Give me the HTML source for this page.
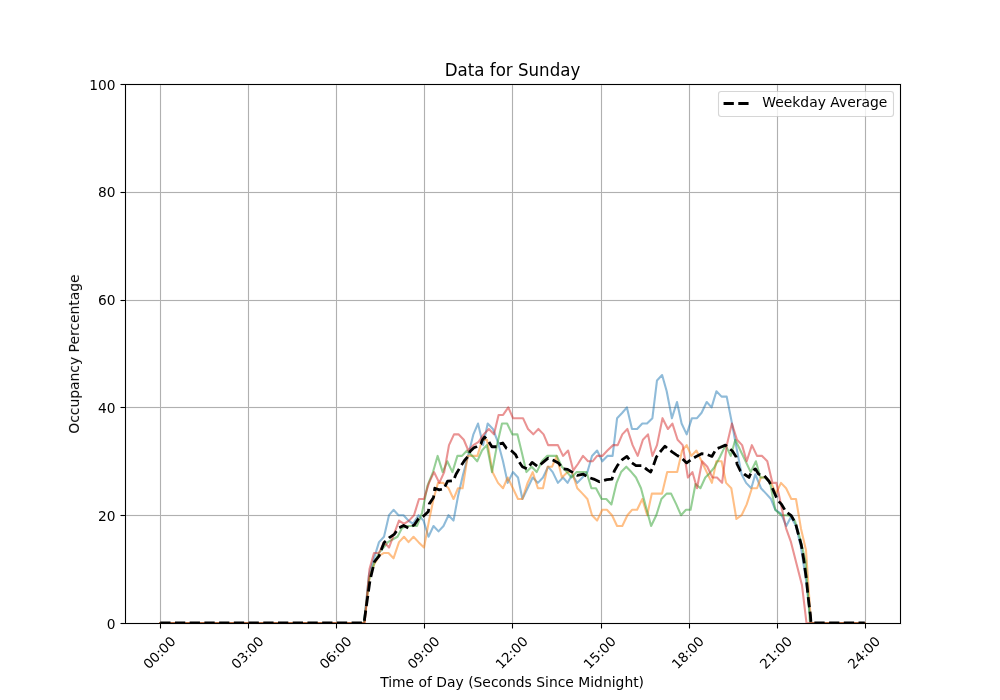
<!DOCTYPE html>
<html><head><meta charset="utf-8"><title>Data for Sunday</title>
<style>html,body{margin:0;padding:0;background:#fff;width:1000px;height:700px;overflow:hidden}svg{display:block}</style>
</head><body>
<svg width="1000" height="700" viewBox="0 0 1000 700" version="1.1">
<defs><clipPath id="ax"><rect x="125" y="84" width="775" height="539"/></clipPath></defs>
<rect x="0" y="0" width="1000" height="700" fill="#ffffff"/>
<g fill="#fafafa" shape-rendering="crispEdges"><rect x="159" y="85" width="1" height="538"/><rect x="161" y="85" width="1" height="538"/><rect x="247" y="85" width="1" height="538"/><rect x="249" y="85" width="1" height="538"/><rect x="335" y="85" width="1" height="538"/><rect x="337" y="85" width="1" height="538"/><rect x="423" y="85" width="1" height="538"/><rect x="425" y="85" width="1" height="538"/><rect x="511" y="85" width="1" height="538"/><rect x="513" y="85" width="1" height="538"/><rect x="600" y="85" width="1" height="538"/><rect x="602" y="85" width="1" height="538"/><rect x="688" y="85" width="1" height="538"/><rect x="690" y="85" width="1" height="538"/><rect x="776" y="85" width="1" height="538"/><rect x="778" y="85" width="1" height="538"/><rect x="864" y="85" width="1" height="538"/><rect x="866" y="85" width="1" height="538"/><rect x="126" y="191" width="774" height="1"/><rect x="126" y="193" width="774" height="1"/><rect x="126" y="299" width="774" height="1"/><rect x="126" y="301" width="774" height="1"/><rect x="126" y="406" width="774" height="1"/><rect x="126" y="408" width="774" height="1"/><rect x="126" y="514" width="774" height="1"/><rect x="126" y="516" width="774" height="1"/></g>
<g fill="#f1f1f1" shape-rendering="crispEdges"><rect x="126" y="85" width="774" height="1"/><rect x="126" y="622" width="774" height="1"/><rect x="126" y="85" width="1" height="537"/><rect x="899" y="85" width="1" height="537"/></g>
<g fill="#b0b0b0" shape-rendering="crispEdges"><rect x="160" y="84" width="1" height="539"/><rect x="248" y="84" width="1" height="539"/><rect x="336" y="84" width="1" height="539"/><rect x="424" y="84" width="1" height="539"/><rect x="512" y="84" width="1" height="539"/><rect x="601" y="84" width="1" height="539"/><rect x="689" y="84" width="1" height="539"/><rect x="777" y="84" width="1" height="539"/><rect x="865" y="84" width="1" height="539"/><rect x="125" y="192" width="775" height="1"/><rect x="125" y="300" width="775" height="1"/><rect x="125" y="407" width="775" height="1"/><rect x="125" y="515" width="775" height="1"/></g>
<g clip-path="url(#ax)" fill="none" stroke-linejoin="round" stroke-linecap="square">
<path d="M160.23 623.00 L165.12 623.00 L170.01 623.00 L174.91 623.00 L179.80 623.00 L184.69 623.00 L189.58 623.00 L194.48 623.00 L199.37 623.00 L204.26 623.00 L209.15 623.00 L214.05 623.00 L218.94 623.00 L223.83 623.00 L228.72 623.00 L233.62 623.00 L238.51 623.00 L243.40 623.00 L248.30 623.00 L253.19 623.00 L258.08 623.00 L262.97 623.00 L267.87 623.00 L272.76 623.00 L277.65 623.00 L282.54 623.00 L287.44 623.00 L292.33 623.00 L297.22 623.00 L302.11 623.00 L307.01 623.00 L311.90 623.00 L316.79 623.00 L321.69 623.00 L326.58 623.00 L331.47 623.00 L336.36 623.00 L341.26 623.00 L346.15 623.00 L351.04 623.00 L355.93 623.00 L360.83 623.00 L364.00 623.00 L369.00 574.49 L374.00 558.32 L379.00 542.15 L384.00 536.76 L389.00 515.20 L393.50 509.81 L398.50 515.20 L403.50 515.20 L408.50 520.59 L413.00 523.82 L418.50 515.20 L423.50 520.59 L428.50 536.76 L433.50 525.98 L438.50 531.37 L443.50 525.98 L448.50 515.20 L453.50 520.59 L458.00 496.34 L463.00 474.77 L468.00 455.91 L473.40 434.35 L478.00 423.57 L483.10 445.13 L487.70 423.57 L492.90 428.96 L498.00 442.44 L503.00 461.30 L507.70 482.86 L512.90 472.08 L518.00 477.47 L522.40 499.03 L527.60 488.25 L532.70 477.47 L537.90 482.86 L543.00 477.47 L548.10 466.69 L552.70 472.08 L557.90 482.86 L563.00 477.47 L567.60 482.86 L572.10 474.77 L577.30 482.86 L582.40 477.47 L587.40 472.08 L592.00 455.91 L597.10 450.52 L602.30 461.30 L607.40 455.91 L612.60 455.91 L617.10 418.18 L622.30 412.79 L626.90 407.40 L632.00 428.96 L637.10 428.96 L642.30 423.57 L647.00 423.57 L652.40 418.18 L657.00 380.45 L662.10 375.06 L666.70 391.23 L671.90 418.18 L677.00 402.01 L681.60 423.57 L686.70 434.35 L691.90 418.18 L697.00 418.18 L701.60 412.79 L706.70 402.01 L711.60 407.40 L716.40 391.23 L721.60 396.62 L726.70 396.62 L731.50 420.88 L736.50 447.83 L741.60 474.24 L746.10 482.86 L751.30 488.25 L755.30 474.24 L761.00 488.25 L766.10 493.64 L771.00 499.03 L775.30 509.81 L781.00 513.58 L786.30 525.98 L791.00 516.82 L796.00 525.98 L801.00 547.54 L806.00 579.88 L811.00 623.00 L815.85 623.00 L820.74 623.00 L825.63 623.00 L830.52 623.00 L835.42 623.00 L840.31 623.00 L845.20 623.00 L850.09 623.00 L854.99 623.00 L859.88 623.00 L864.77 623.00" stroke="#1f77b4" stroke-opacity="0.5" stroke-width="2.0833"/>
<path d="M160.23 623.00 L165.12 623.00 L170.01 623.00 L174.91 623.00 L179.80 623.00 L184.69 623.00 L189.58 623.00 L194.48 623.00 L199.37 623.00 L204.26 623.00 L209.15 623.00 L214.05 623.00 L218.94 623.00 L223.83 623.00 L228.72 623.00 L233.62 623.00 L238.51 623.00 L243.40 623.00 L248.30 623.00 L253.19 623.00 L258.08 623.00 L262.97 623.00 L267.87 623.00 L272.76 623.00 L277.65 623.00 L282.54 623.00 L287.44 623.00 L292.33 623.00 L297.22 623.00 L302.11 623.00 L307.01 623.00 L311.90 623.00 L316.79 623.00 L321.69 623.00 L326.58 623.00 L331.47 623.00 L336.36 623.00 L341.26 623.00 L346.15 623.00 L351.04 623.00 L355.93 623.00 L360.83 623.00 L364.50 623.00 L369.50 577.18 L374.50 563.71 L379.50 555.62 L384.00 552.93 L388.50 552.93 L393.50 558.32 L399.00 542.15 L404.00 536.76 L408.50 542.15 L413.50 536.76 L418.50 542.15 L424.00 547.54 L429.00 520.59 L433.50 499.03 L438.00 482.86 L443.00 482.86 L448.50 488.25 L453.50 499.03 L458.00 488.25 L462.60 488.25 L467.70 455.91 L472.30 455.91 L477.40 455.91 L482.30 439.74 L487.00 439.74 L492.50 472.08 L498.00 482.86 L503.00 488.25 L507.70 477.47 L512.90 488.25 L518.00 499.03 L522.40 499.03 L527.60 482.86 L532.70 472.08 L537.90 488.25 L543.00 488.25 L547.60 466.69 L552.10 466.69 L556.70 455.91 L561.90 477.47 L567.60 472.08 L572.10 472.08 L577.30 488.25 L582.50 493.64 L587.40 499.03 L592.00 515.20 L597.10 520.59 L602.30 509.81 L606.90 509.81 L612.00 515.20 L617.10 525.98 L622.30 525.98 L627.40 515.20 L632.00 509.81 L637.10 509.81 L642.30 499.03 L647.20 515.20 L651.80 493.64 L657.00 493.64 L662.00 493.64 L667.20 472.08 L672.20 472.08 L677.20 472.08 L682.10 450.52 L686.70 445.13 L691.30 455.91 L696.40 450.52 L701.60 461.30 L706.70 472.08 L711.90 482.86 L716.40 461.30 L721.60 461.30 L726.10 482.86 L731.30 488.25 L736.40 518.97 L741.60 515.20 L746.70 504.42 L751.90 488.25 L757.00 488.25 L761.00 477.47 L766.10 477.47 L771.30 482.86 L775.90 493.64 L781.00 482.86 L786.10 488.25 L791.30 499.03 L796.00 499.03 L801.00 528.67 L806.00 550.24 L811.00 623.00 L815.85 623.00 L820.74 623.00 L825.63 623.00 L830.52 623.00 L835.42 623.00 L840.31 623.00 L845.20 623.00 L850.09 623.00 L854.99 623.00 L859.88 623.00 L864.77 623.00" stroke="#ff7f0e" stroke-opacity="0.5" stroke-width="2.0833"/>
<path d="M160.23 623.00 L165.12 623.00 L170.01 623.00 L174.91 623.00 L179.80 623.00 L184.69 623.00 L189.58 623.00 L194.48 623.00 L199.37 623.00 L204.26 623.00 L209.15 623.00 L214.05 623.00 L218.94 623.00 L223.83 623.00 L228.72 623.00 L233.62 623.00 L238.51 623.00 L243.40 623.00 L248.30 623.00 L253.19 623.00 L258.08 623.00 L262.97 623.00 L267.87 623.00 L272.76 623.00 L277.65 623.00 L282.54 623.00 L287.44 623.00 L292.33 623.00 L297.22 623.00 L302.11 623.00 L307.01 623.00 L311.90 623.00 L316.79 623.00 L321.69 623.00 L326.58 623.00 L331.47 623.00 L336.36 623.00 L341.26 623.00 L346.15 623.00 L351.04 623.00 L355.93 623.00 L360.83 623.00 L364.00 623.00 L369.00 579.88 L374.00 563.71 L379.00 552.93 L383.50 547.54 L388.00 542.15 L392.50 539.46 L397.50 536.76 L402.00 528.14 L407.00 525.98 L412.00 525.98 L417.00 525.98 L422.00 513.04 L427.50 485.56 L433.00 472.08 L437.60 455.91 L442.70 472.08 L447.30 461.30 L452.40 472.08 L457.40 455.91 L462.00 455.91 L467.00 450.52 L472.30 455.91 L477.20 461.30 L482.00 450.52 L486.80 445.13 L492.00 472.08 L497.00 445.13 L502.00 423.57 L507.10 423.57 L512.30 434.35 L517.40 434.35 L522.00 453.22 L526.40 472.08 L531.60 466.69 L536.70 472.08 L541.90 461.30 L547.00 455.91 L552.10 455.91 L556.70 455.91 L561.90 466.69 L567.00 472.08 L571.60 477.47 L576.50 472.08 L581.50 472.08 L586.50 472.08 L591.40 488.25 L596.00 488.25 L601.70 499.03 L606.30 499.03 L611.40 504.42 L616.60 482.86 L621.10 472.08 L626.30 466.69 L631.40 472.08 L636.00 477.47 L641.00 488.25 L646.00 507.12 L651.10 525.98 L656.30 515.20 L661.40 499.03 L666.60 493.64 L671.10 493.64 L676.30 504.42 L681.00 515.20 L686.00 509.81 L690.60 509.81 L695.50 483.94 L700.40 488.25 L705.30 477.47 L709.60 473.16 L714.10 467.77 L719.90 456.99 L725.60 445.13 L730.70 455.91 L735.30 439.74 L740.40 450.52 L745.60 461.30 L750.70 472.08 L755.90 461.30 L760.40 477.47 L765.00 477.47 L770.10 482.86 L775.30 509.81 L781.00 515.20 L786.10 515.20 L791.00 515.74 L795.00 521.13 L800.50 539.99 L805.50 561.01 L810.00 623.00 L810.95 623.00 L815.85 623.00 L820.74 623.00 L825.63 623.00 L830.52 623.00 L835.42 623.00 L840.31 623.00 L845.20 623.00 L850.09 623.00 L854.99 623.00 L859.88 623.00 L864.77 623.00" stroke="#2ca02c" stroke-opacity="0.5" stroke-width="2.0833"/>
<path d="M160.23 623.00 L165.12 623.00 L170.01 623.00 L174.91 623.00 L179.80 623.00 L184.69 623.00 L189.58 623.00 L194.48 623.00 L199.37 623.00 L204.26 623.00 L209.15 623.00 L214.05 623.00 L218.94 623.00 L223.83 623.00 L228.72 623.00 L233.62 623.00 L238.51 623.00 L243.40 623.00 L248.30 623.00 L253.19 623.00 L258.08 623.00 L262.97 623.00 L267.87 623.00 L272.76 623.00 L277.65 623.00 L282.54 623.00 L287.44 623.00 L292.33 623.00 L297.22 623.00 L302.11 623.00 L307.01 623.00 L311.90 623.00 L316.79 623.00 L321.69 623.00 L326.58 623.00 L331.47 623.00 L336.36 623.00 L341.26 623.00 L346.15 623.00 L351.04 623.00 L355.93 623.00 L360.83 623.00 L364.50 623.00 L369.50 569.10 L374.00 552.93 L379.00 552.93 L384.00 542.15 L389.00 547.54 L394.00 534.07 L399.00 520.59 L404.00 523.82 L409.00 520.59 L414.00 515.20 L419.00 499.03 L424.00 499.03 L429.00 482.86 L434.00 472.08 L439.30 482.86 L444.20 472.08 L449.00 445.13 L454.00 434.35 L458.50 434.35 L463.80 439.74 L468.30 450.52 L473.40 445.13 L478.60 441.90 L483.70 434.35 L488.90 428.96 L494.00 434.35 L498.60 414.95 L503.10 414.95 L508.30 407.40 L513.00 418.18 L518.00 418.18 L523.00 418.18 L528.00 428.96 L533.30 434.35 L538.40 428.96 L543.60 434.35 L548.10 445.13 L552.70 445.13 L557.90 445.13 L563.00 455.91 L568.10 450.52 L573.30 470.46 L577.90 464.00 L583.00 455.91 L588.00 461.30 L592.60 461.30 L597.10 455.91 L602.30 455.91 L607.40 450.52 L613.10 445.13 L617.70 445.13 L622.30 434.35 L627.40 428.96 L632.60 445.13 L637.70 455.91 L642.90 439.74 L648.00 434.35 L652.40 455.91 L657.00 445.13 L662.50 418.18 L667.90 428.96 L672.40 423.57 L677.60 439.74 L682.70 445.13 L687.90 477.47 L692.40 472.08 L697.00 488.25 L702.10 461.30 L707.30 466.69 L712.40 477.47 L717.00 477.47 L722.10 482.86 L726.80 445.13 L731.90 423.57 L737.00 439.74 L742.10 445.13 L746.70 461.30 L751.90 445.13 L757.00 455.91 L762.10 455.91 L767.30 461.30 L772.40 482.86 L776.40 482.86 L781.00 504.42 L786.00 528.14 L791.00 542.15 L796.50 563.71 L802.00 585.27 L806.50 623.00 L810.95 623.00 L815.85 623.00 L820.74 623.00 L825.63 623.00 L830.52 623.00 L835.42 623.00 L840.31 623.00 L845.20 623.00 L850.09 623.00 L854.99 623.00 L859.88 623.00 L864.77 623.00" stroke="#d62728" stroke-opacity="0.5" stroke-width="2.0833"/>
<path d="M160.23 623.00 L165.12 623.00 L170.01 623.00 L174.91 623.00 L179.80 623.00 L184.69 623.00 L189.58 623.00 L194.48 623.00 L199.37 623.00 L204.26 623.00 L209.15 623.00 L214.05 623.00 L218.94 623.00 L223.83 623.00 L228.72 623.00 L233.62 623.00 L238.51 623.00 L243.40 623.00 L248.30 623.00 L253.19 623.00 L258.08 623.00 L262.97 623.00 L267.87 623.00 L272.76 623.00 L277.65 623.00 L282.54 623.00 L287.44 623.00 L292.33 623.00 L297.22 623.00 L302.11 623.00 L307.01 623.00 L311.90 623.00 L316.79 623.00 L321.69 623.00 L326.58 623.00 L331.47 623.00 L336.36 623.00 L341.26 623.00 L346.15 623.00 L351.04 623.00 L355.93 623.00 L360.83 623.00 L364.00 623.00 L370.00 580.42 L374.50 561.55 L379.00 556.16 L384.00 542.69 L389.00 537.84 L394.50 534.07 L398.50 528.14 L403.60 525.44 L408.60 528.14 L414.30 524.90 L418.60 518.43 L423.90 515.74 L428.40 511.43 L429.30 503.88 L433.50 497.41 L434.80 488.25 L439.30 489.87 L443.80 488.79 L447.60 481.24 L453.40 480.70 L456.00 474.24 L459.80 467.77 L464.30 460.76 L468.80 455.37 L470.00 451.60 L473.90 447.83 L476.40 446.75 L480.90 444.05 L482.20 440.28 L484.50 437.05 L488.00 440.28 L491.90 446.75 L497.00 446.75 L499.00 444.05 L502.80 442.97 L506.50 448.36 L511.70 451.06 L515.70 454.83 L518.40 460.76 L522.40 466.69 L527.00 468.85 L532.10 462.38 L537.90 466.69 L543.00 462.38 L548.10 458.07 L553.30 460.22 L558.40 462.92 L563.00 468.85 L567.60 469.38 L572.10 472.08 L577.30 475.31 L583.40 474.24 L588.60 477.47 L593.70 479.09 L599.40 481.78 L606.90 479.63 L612.00 479.09 L614.30 471.00 L617.70 465.07 L622.30 459.68 L626.90 456.45 L631.40 462.38 L636.00 465.61 L642.30 465.61 L647.40 469.92 L650.70 472.08 L653.60 465.07 L656.40 456.99 L659.90 452.14 L665.00 446.21 L667.90 448.90 L672.40 452.14 L676.40 454.83 L681.60 458.07 L686.70 462.92 L691.90 459.14 L695.30 456.99 L701.60 453.75 L706.40 454.29 L711.90 456.45 L716.20 448.90 L720.50 447.29 L725.50 445.13 L728.00 447.29 L732.40 451.06 L736.20 456.99 L737.00 464.00 L740.40 471.00 L744.40 474.24 L749.00 477.47 L751.30 472.08 L755.30 468.85 L758.70 474.24 L764.40 475.85 L769.00 481.24 L772.40 488.25 L777.60 500.11 L781.60 504.42 L786.10 511.97 L791.30 515.74 L795.50 523.28 L797.60 531.37 L801.30 544.85 L804.10 562.09 L806.40 579.34 L808.10 596.59 L810.40 614.91 L811.00 623.00 L815.85 623.00 L820.74 623.00 L825.63 623.00 L830.52 623.00 L835.42 623.00 L840.31 623.00 L845.20 623.00 L850.09 623.00 L854.99 623.00 L859.88 623.00 L864.77 623.00" stroke="#000000" stroke-width="2.7778" stroke-dasharray="10.2778 4.4444" stroke-linecap="butt"/>
</g>
<g fill="#f1f1f1" shape-rendering="crispEdges"><rect x="124" y="83" width="778" height="1"/><rect x="124" y="624" width="778" height="1"/><rect x="124" y="83" width="1" height="542"/><rect x="901" y="83" width="1" height="542"/><rect x="159" y="624" width="1" height="4"/><rect x="161" y="624" width="1" height="4"/><rect x="247" y="624" width="1" height="4"/><rect x="249" y="624" width="1" height="4"/><rect x="335" y="624" width="1" height="4"/><rect x="337" y="624" width="1" height="4"/><rect x="423" y="624" width="1" height="4"/><rect x="425" y="624" width="1" height="4"/><rect x="511" y="624" width="1" height="4"/><rect x="513" y="624" width="1" height="4"/><rect x="600" y="624" width="1" height="4"/><rect x="602" y="624" width="1" height="4"/><rect x="688" y="624" width="1" height="4"/><rect x="690" y="624" width="1" height="4"/><rect x="776" y="624" width="1" height="4"/><rect x="778" y="624" width="1" height="4"/><rect x="864" y="624" width="1" height="4"/><rect x="866" y="624" width="1" height="4"/><rect x="121" y="191" width="4" height="1"/><rect x="121" y="193" width="4" height="1"/><rect x="121" y="299" width="4" height="1"/><rect x="121" y="301" width="4" height="1"/><rect x="121" y="406" width="4" height="1"/><rect x="121" y="408" width="4" height="1"/><rect x="121" y="514" width="4" height="1"/><rect x="121" y="516" width="4" height="1"/><rect x="121" y="83" width="4" height="1"/><rect x="121" y="85" width="4" height="1"/><rect x="121" y="622" width="4" height="1"/><rect x="121" y="624" width="4" height="1"/></g>
<g fill="#000000" shape-rendering="crispEdges"><rect x="125" y="84" width="776" height="1"/><rect x="125" y="623" width="776" height="1"/><rect x="125" y="84" width="1" height="540"/><rect x="900" y="84" width="1" height="540"/><rect x="160" y="624" width="1" height="4"/><rect x="248" y="624" width="1" height="4"/><rect x="336" y="624" width="1" height="4"/><rect x="424" y="624" width="1" height="4"/><rect x="512" y="624" width="1" height="4"/><rect x="601" y="624" width="1" height="4"/><rect x="689" y="624" width="1" height="4"/><rect x="777" y="624" width="1" height="4"/><rect x="865" y="624" width="1" height="4"/><rect x="121" y="192" width="4" height="1"/><rect x="121" y="300" width="4" height="1"/><rect x="121" y="407" width="4" height="1"/><rect x="121" y="515" width="4" height="1"/><rect x="121" y="84" width="4" height="1"/><rect x="121" y="623" width="4" height="1"/></g>
<g fill="#7f7f7f" shape-rendering="crispEdges"><rect x="160" y="628" width="1" height="1"/><rect x="248" y="628" width="1" height="1"/><rect x="336" y="628" width="1" height="1"/><rect x="424" y="628" width="1" height="1"/><rect x="512" y="628" width="1" height="1"/><rect x="601" y="628" width="1" height="1"/><rect x="689" y="628" width="1" height="1"/><rect x="777" y="628" width="1" height="1"/><rect x="865" y="628" width="1" height="1"/><rect x="120" y="192" width="1" height="1"/><rect x="120" y="300" width="1" height="1"/><rect x="120" y="407" width="1" height="1"/><rect x="120" y="515" width="1" height="1"/><rect x="120" y="84" width="1" height="1"/><rect x="120" y="623" width="1" height="1"/></g>
<g fill="#000000" style="will-change:transform;font-family:'DejaVu Sans','Liberation Sans',sans-serif"><text x="149.04" y="669.74" transform="rotate(-45 149.04 669.74)" style="font-size:13.472px">00:00</text><text x="237.10" y="669.74" transform="rotate(-45 237.10 669.74)" style="font-size:13.472px">03:00</text><text x="325.17" y="669.74" transform="rotate(-45 325.17 669.74)" style="font-size:13.472px">06:00</text><text x="413.24" y="669.74" transform="rotate(-45 413.24 669.74)" style="font-size:13.472px">09:00</text><text x="501.31" y="669.74" transform="rotate(-45 501.31 669.74)" style="font-size:13.472px">12:00</text><text x="589.38" y="669.74" transform="rotate(-45 589.38 669.74)" style="font-size:13.472px">15:00</text><text x="677.44" y="669.74" transform="rotate(-45 677.44 669.74)" style="font-size:13.472px">18:00</text><text x="765.51" y="669.74" transform="rotate(-45 765.51 669.74)" style="font-size:13.472px">21:00</text><text x="853.58" y="669.74" transform="rotate(-45 853.58 669.74)" style="font-size:13.472px">24:00</text><text x="115.40" y="628.53" text-anchor="end" style="font-size:13.750px">0</text><text x="115.40" y="520.73" text-anchor="end" style="font-size:13.750px">20</text><text x="115.40" y="412.93" text-anchor="end" style="font-size:13.750px">40</text><text x="115.40" y="305.13" text-anchor="end" style="font-size:13.750px">60</text><text x="115.40" y="197.33" text-anchor="end" style="font-size:13.750px">80</text><text x="115.40" y="89.53" text-anchor="end" style="font-size:13.750px">100</text><text x="512.12" y="686.64" text-anchor="middle" style="font-size:13.889px">Time of Day (Seconds Since Midnight)</text><text x="78.95" y="354.00" text-anchor="middle" transform="rotate(-90 78.95 354.00)" style="font-size:13.889px">Occupancy Percentage</text><text x="512.50" y="75.67" text-anchor="middle" transform="translate(512.500 75.667) scale(1.0000 1.0800) translate(-512.500 -75.667)" style="font-size:16.667px">Data for Sunday</text></g>
<rect x="718.50" y="91.50" width="175.00" height="25.00" rx="2.78" ry="2.78" fill="#ffffff" stroke="#cccccc" stroke-width="1.1" opacity="0.8"/>
<path d="M723.56 103.50 L751.34 103.50" stroke="#000000" stroke-width="2.7778" stroke-dasharray="10.2778 4.4444" fill="none"/>
<text x="762.33" y="106.55" style="will-change:transform;font-size:13.889px;font-family:'DejaVu Sans','Liberation Sans',sans-serif" fill="#000000">Weekday Average</text>
</svg>
</body></html>
